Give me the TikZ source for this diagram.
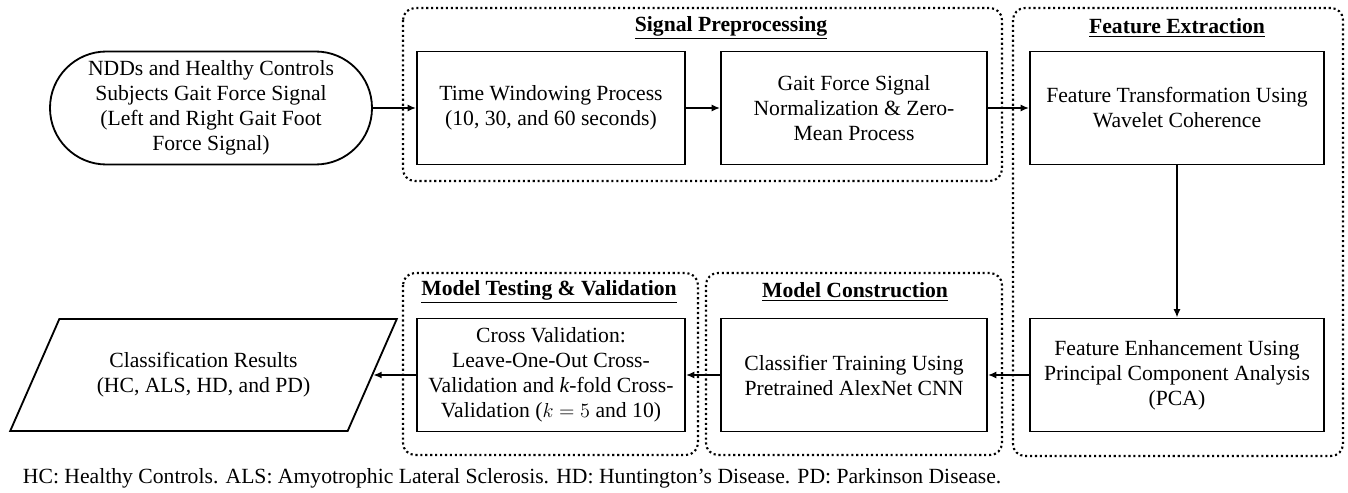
\documentclass[tikz,border=0pt]{standalone}
\usepackage{fontspec}
\setmainfont{Liberation Serif}
\usetikzlibrary{shapes.geometric,arrows.meta}

\tikzset{
  box/.style={draw,line width=1.3pt,minimum height=2.825cm,align=center,inner sep=2pt},
  grp/.style={line width=1.5pt,dotted,rounded corners=0.3cm},
  ttl/.style={font=\fontsize{15.4}{17.8}\selectfont\bfseries},
  arr/.style={line width=1.2pt,-{Latex[length=6pt,width=5pt]}}
}

\begin{document}
\begin{tikzpicture}[font=\fontsize{15.4}{17.8}\selectfont]
\useasboundingbox (0,0) rectangle (33.7,-12.325);

\draw[grp](10.075,-0.2) rectangle (25.05,-4.525);
\draw[grp](25.325,-0.2) rectangle (33.575,-11.4);
\draw[grp](10.075,-6.825) rectangle (17.45,-11.375);
\draw[grp](17.65,-6.825) rectangle (25.05,-11.375);

\node[ttl] (sptitle) at (18.275,-0.7) {\underline{Signal Preprocessing}};
\node[ttl] (fxtitle) at (29.425,-0.7) {\underline{Feature Extraction}};
\node[ttl] (mttitle) at (13.725,-7.3) {\underline{Model Testing \& Validation}};
\node[ttl] (mctitle) at (21.375,-7.3) {\underline{Model Construction}};

\node[box,rounded corners=1.41cm,minimum width=8.05cm] (start) at (5.275,-2.7)
  {NDDs and Healthy Controls\\Subjects Gait Force Signal\\(Left and Right Gait Foot\\Force Signal)};
\node[box,minimum width=6.7cm] (window) at (13.775,-2.7)
  {Time Windowing Process\\(10, 30, and 60 seconds)};
\node[box,minimum width=6.65cm] (norm) at (21.35,-2.7)
  {Gait Force Signal\\Normalization \& Zero-\\Mean Process};
\node[box,minimum width=7.35cm] (wavelet) at (29.425,-2.7)
  {Feature Transformation Using\\Wavelet Coherence};
\node[box,minimum width=7.35cm] (pca) at (29.425,-9.375)
  {Feature Enhancement Using\\Principal Component Analysis\\(PCA)};
\node[box,minimum width=6.65cm] (cnn) at (21.35,-9.375)
  {Classifier Training Using\\Pretrained AlexNet CNN};
\node[box,minimum width=6.7cm] (cv) at (13.775,-9.375)
  {Cross Validation:\\Leave-One-Out Cross-\\Validation and \textit{k}-fold Cross-\\Validation ($k=5$ and 10)};
\node[draw,line width=1.3pt,trapezium,trapezium left angle=55,trapezium right angle=125,
  trapezium stretches=true,minimum width=9.675cm,minimum height=2.8cm,align=center] (result) at (5.0875,-9.375)
  {Classification Results\\(HC, ALS, HD, and PD)};

\draw[arr](start)--(window);
\draw[arr](window)--(norm);
\draw[arr](norm)--(wavelet);
\draw[arr](wavelet)--(pca);
\draw[arr](pca)--(cnn);
\draw[arr](cnn)--(cv);
\draw[arr](cv)--(result);

\node[anchor=west] (note) at (0.45,-11.95)
  {HC: Healthy Controls. ALS: Amyotrophic Lateral Sclerosis. HD: Huntington's Disease. PD: Parkinson Disease.};
\end{tikzpicture}
\end{document}
